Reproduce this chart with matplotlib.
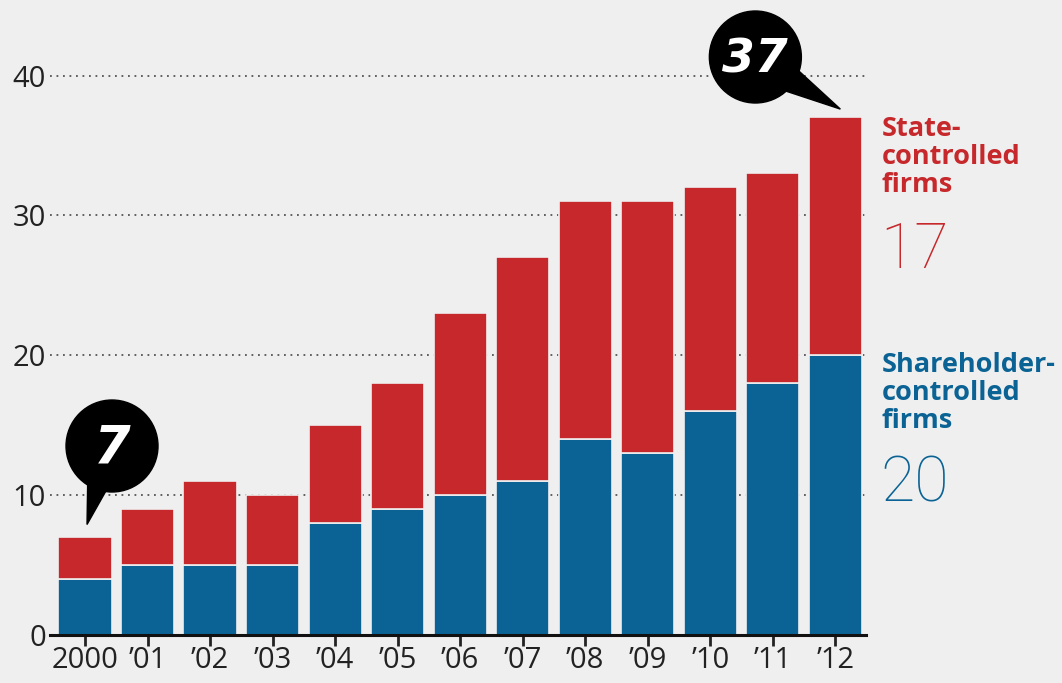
import matplotlib
matplotlib.use("Agg")
import matplotlib.pyplot as plt
from matplotlib.patches import Ellipse, Polygon
import numpy as np

years = ["2000", "\u201901", "\u201902", "\u201903", "\u201904", "\u201905", "\u201906",
         "\u201907", "\u201908", "\u201909", "\u201910", "\u201911", "\u201912"]
shareholder = [4, 5, 5, 5, 8, 9, 10, 11, 14, 13, 16, 18, 20]
state = [3, 4, 6, 5, 7, 9, 13, 16, 17, 18, 16, 15, 17]
yticks = [0, 10, 20, 30, 40]

RED = "#c6282b"
BLUE = "#0a6394"
BG = "#efefef"
FONT = ["Open Sans", "DejaVu Sans"]

W, H = 1062, 683
fig = plt.figure(figsize=(W / 100, H / 100), dpi=100, facecolor=BG)
left_px, right_px, bottom_px, top_px = 50, 866, 635, 0
ax = fig.add_axes([left_px / W, 1 - bottom_px / H, (right_px - left_px) / W, (bottom_px - top_px) / H])
ax.set_facecolor(BG)

x = np.arange(len(years))
ax.set_xlim(-0.56, 12.49)
ax.set_ylim(0, 45.4)

for yv in yticks[1:]:
    ax.axhline(yv, color="#555555", lw=1.3, ls=(0, (1, 2.6)), zorder=0)

ax.bar(x, shareholder, width=0.85, color=BLUE, edgecolor=BG, linewidth=1.2, zorder=2)
ax.bar(x, state, bottom=shareholder, width=0.85, color=RED, edgecolor=BG, linewidth=1.2, zorder=2)

for s in ["top", "right", "left"]:
    ax.spines[s].set_visible(False)
ax.spines["bottom"].set_linewidth(2.2)
ax.spines["bottom"].set_color("#111111")
ax.spines["bottom"].set_zorder(3)

ax.set_xticks(x)
ax.set_xticklabels(years, fontsize=21, family=FONT, color="#222222")
ax.set_yticks(yticks)
ax.set_yticklabels([str(v) for v in yticks], fontsize=21, family=FONT, color="#222222")
ax.tick_params(axis="x", length=8, width=2, color="#222222", pad=0)
ax.tick_params(axis="y", length=0, pad=3)

# pixel scale helpers
sx = (right_px - left_px) / (12.49 + 0.56)
sy = (bottom_px - top_px) / 45.4

totals = [a + b for a, b in zip(shareholder, state)]


def bubble(cx, cy, tip, label, r=46, a1=0.0, a2=0.0, fs=38):
    ax.add_patch(Ellipse((cx, cy), 2 * r / sx, 2 * r / sy, color="black", zorder=5, clip_on=False))
    p1 = (cx + r * np.cos(np.radians(a1)) / sx, cy + r * np.sin(np.radians(a1)) / sy)
    p2 = (cx + r * np.cos(np.radians(a2)) / sx, cy + r * np.sin(np.radians(a2)) / sy)
    ax.add_patch(Polygon([p1, tip, p2], closed=True, color="black", zorder=5, clip_on=False))
    ax.text(cx, cy - 0.2, label, color="white", fontsize=fs, fontweight="heavy", style="italic",
            ha="center", va="center", zorder=6, family=["DejaVu Sans"])


# "7" bubble
bubble(x[0] + 27 / sx, (bottom_px - 446) / sy, (x[0] + 2 / sx, totals[0] + 0.9), str(totals[0]),
       r=46, a1=238, a2=262, fs=38)
# "37" bubble
bubble(x[12] - 80 / sx, (bottom_px - 57) / sy, (x[12] + 5 / sx, totals[12] + 0.6), str(totals[12]),
       r=46, a1=-18, a2=-48, fs=34)

# right labels
lx = 12.49 + 16 / sx
ax.text(lx, (bottom_px - 116) / sy, "State-\ncontrolled\nfirms", color=RED, fontsize=19.5,
        fontweight="bold", ha="left", va="top", linespacing=1.1, family=FONT,
        clip_on=False)
ax.text(lx - 2 / sx, (bottom_px - 220) / sy, str(state[-1]), color=RED, fontsize=45, fontweight="light",
        ha="left", va="top", family=["Roboto", "DejaVu Sans"], clip_on=False)
ax.text(lx, (bottom_px - 352) / sy, "Shareholder-\ncontrolled\nfirms", color=BLUE, fontsize=19.5,
        fontweight="bold", ha="left", va="top", linespacing=1.1, family=FONT,
        clip_on=False)
ax.text(lx - 2 / sx, (bottom_px - 454) / sy, str(shareholder[-1]), color=BLUE, fontsize=45, fontweight="light",
        ha="left", va="top", family=["Roboto", "DejaVu Sans"], clip_on=False)

fig.savefig("out.png", dpi=100, facecolor=BG)
